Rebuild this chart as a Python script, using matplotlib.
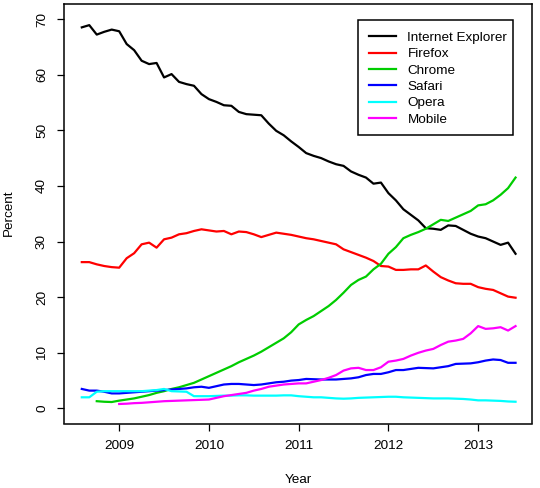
import numpy as np
import pandas as pd
import matplotlib
matplotlib.use("Agg")
import matplotlib.pyplot as plt
from matplotlib.patches import Rectangle

plt.rcParams['font.family'] = ['Liberation Sans', 'DejaVu Sans']

# Monthly data, Aug 2008 .. Jun 2013 (59 months)
months = pd.date_range("2008-08-01", "2013-06-01", freq="MS")

ie = [68.5, 68.9, 67.2, 67.7, 68.1, 67.8, 65.5, 64.4, 62.5, 61.9,
      62.1, 59.5, 60.1, 58.7, 58.3, 58.0, 56.5, 55.6, 55.1, 54.5,
      54.4, 53.3, 52.9, 52.8, 52.7, 51.2, 49.9, 49.1, 48.0, 47.0,
      45.9, 45.4, 45.0, 44.4, 43.9, 43.6, 42.6, 42.0, 41.5, 40.4,
      40.6, 38.7, 37.4, 35.8, 34.8, 33.8, 32.4, 32.3, 32.1, 32.9,
      32.8, 32.1, 31.4, 30.9, 30.6, 30.0, 29.4, 29.8, 27.8]

firefox = [26.3, 26.3, 25.9, 25.6, 25.4, 25.3, 27.0, 27.9, 29.5, 29.8,
           28.9, 30.4, 30.7, 31.3, 31.5, 31.9, 32.2, 32.0, 31.8, 31.9,
           31.3, 31.8, 31.7, 31.3, 30.8, 31.2, 31.6, 31.4, 31.2, 30.9,
           30.6, 30.4, 30.1, 29.8, 29.5, 28.6, 28.1, 27.6, 27.1, 26.5,
           25.6, 25.5, 24.9, 24.9, 25.0, 25.0, 25.7, 24.6, 23.6, 23.0,
           22.5, 22.4, 22.4, 21.8, 21.5, 21.3, 20.7, 20.1, 19.9]

chrome = [np.nan, np.nan, 1.3, 1.2, 1.15, 1.4, 1.6, 1.8, 2.1, 2.4,
          2.8, 3.1, 3.5, 3.8, 4.2, 4.6, 5.2, 5.8, 6.4, 7.0,
          7.6, 8.3, 8.9, 9.5, 10.2, 11.0, 11.8, 12.6, 13.7, 15.1,
          15.9, 16.6, 17.5, 18.4, 19.5, 20.8, 22.2, 23.1, 23.7, 25.0,
          26.0, 27.8, 29.0, 30.6, 31.2, 31.7, 32.3, 33.1, 33.9, 33.7,
          34.3, 34.9, 35.5, 36.5, 36.7, 37.4, 38.4, 39.6, 41.5]

safari = [3.5, 3.2, 3.2, 3.0, 2.7, 2.7, 2.8, 2.9, 3.0, 3.1,
          3.2, 3.3, 3.4, 3.5, 3.6, 3.8, 3.9, 3.7, 4.0, 4.3,
          4.4, 4.4, 4.3, 4.2, 4.3, 4.5, 4.7, 4.8, 5.0, 5.1,
          5.3, 5.25, 5.2, 5.2, 5.2, 5.3, 5.4, 5.6, 6.0, 6.2,
          6.2, 6.5, 6.9, 6.9, 7.1, 7.3, 7.25, 7.2, 7.4, 7.6,
          8.0, 8.05, 8.1, 8.3, 8.6, 8.8, 8.7, 8.2, 8.2]

opera = [2.0, 2.0, 3.0, 3.1, 3.1, 3.1, 3.1, 3.1, 3.1, 3.2,
         3.3, 3.5, 3.1, 3.05, 3.0, 2.2, 2.2, 2.2, 2.25, 2.3,
         2.3, 2.35, 2.35, 2.3, 2.3, 2.3, 2.3, 2.35, 2.35, 2.2,
         2.1, 2.0, 2.0, 1.9, 1.8, 1.75, 1.8, 1.9, 1.95, 2.0,
         2.05, 2.1, 2.1, 2.0, 1.95, 1.9, 1.85, 1.8, 1.8, 1.8,
         1.75, 1.7, 1.6, 1.45, 1.45, 1.4, 1.35, 1.25, 1.2]

mobile = [np.nan, np.nan, np.nan, np.nan, np.nan, 0.8, 0.85, 0.95, 1.0, 1.1,
          1.2, 1.3, 1.35, 1.4, 1.45, 1.5, 1.55, 1.6, 1.9, 2.2,
          2.4, 2.6, 2.8, 3.2, 3.5, 3.9, 4.1, 4.3, 4.4, 4.5,
          4.5, 4.8, 5.1, 5.5, 6.0, 6.8, 7.2, 7.3, 6.9, 6.9,
          7.4, 8.4, 8.6, 8.9, 9.5, 10.0, 10.4, 10.7, 11.4, 12.0,
          12.2, 12.5, 13.5, 14.8, 14.3, 14.4, 14.6, 14.0, 14.8]

series_names = ["Internet Explorer", "Firefox", "Chrome", "Safari", "Opera", "Mobile"]
series_values = [ie, firefox, chrome, safari, opera, mobile]
series_colors = ["#000000", "#FF0000", "#00CD00", "#0000FF", "#00FFFF", "#FF00FF"]

year_ticks = [2009, 2010, 2011, 2012, 2013]
pct_ticks = [0, 10, 20, 30, 40, 50, 60, 70]

# decimal years
x = months.year + (months.month - 1) / 12.0

W, H = 540, 488
fig = plt.figure(figsize=(W / 100, H / 100), dpi=100)
L, R, T, B = 64, 532, 4, 423.5
ax = fig.add_axes([L / W, 1 - B / H, (R - L) / W, (B - T) / H])

for name, vals, col in zip(series_names, series_values, series_colors):
    ax.plot(x, vals, color=col, lw=1.6, label=name)

ax.set_xlim(2008.385, 2013.60)
ax.set_ylim(-2.71, 72.7)
ax.set_xticks(year_ticks)
ax.set_xticklabels([str(y) for y in year_ticks])
ax.set_yticks(pct_ticks)
ax.set_yticklabels([str(v) for v in pct_ticks])

fs = 9.7
ax.tick_params(axis='both', direction='out', length=5.2, width=0.9,
               labelsize=fs, color='black')
ax.tick_params(axis='x', pad=7)
ax.tick_params(axis='y', pad=6.3)
for t in ax.get_yticklabels():
    t.set_rotation(90)
    t.set_va('center')

for s in ax.spines.values():
    s.set_linewidth(1.1)
    s.set_color('black')

fig.text(298 / W, 1 - 480 / H, "Year", ha='center', va='center', fontsize=fs)
fig.text(8.5 / W, 1 - 213 / H, "Percent", ha='center', va='center',
         rotation=90, fontsize=fs)

# legend entries (no matplotlib frame) + R-style box
leg = ax.legend(loc='upper left', bbox_to_anchor=(369 / W, 1 - 31.5 / H),
                bbox_transform=fig.transFigure, fontsize=fs, frameon=False,
                handlelength=2.0, handletextpad=0.85, labelspacing=0.29,
                borderpad=0, borderaxespad=0)
for ln in leg.get_lines():
    ln.set_linewidth(1.6)

lx0, ly0, lx1, ly1 = 358.3, 20, 513.3, 135
fig.patches.append(Rectangle((lx0 / W, 1 - ly1 / H), (lx1 - lx0) / W, (ly1 - ly0) / H,
                             transform=fig.transFigure, facecolor='none',
                             edgecolor='black', linewidth=1.1, zorder=5))

fig.savefig("out.png", dpi=100)
